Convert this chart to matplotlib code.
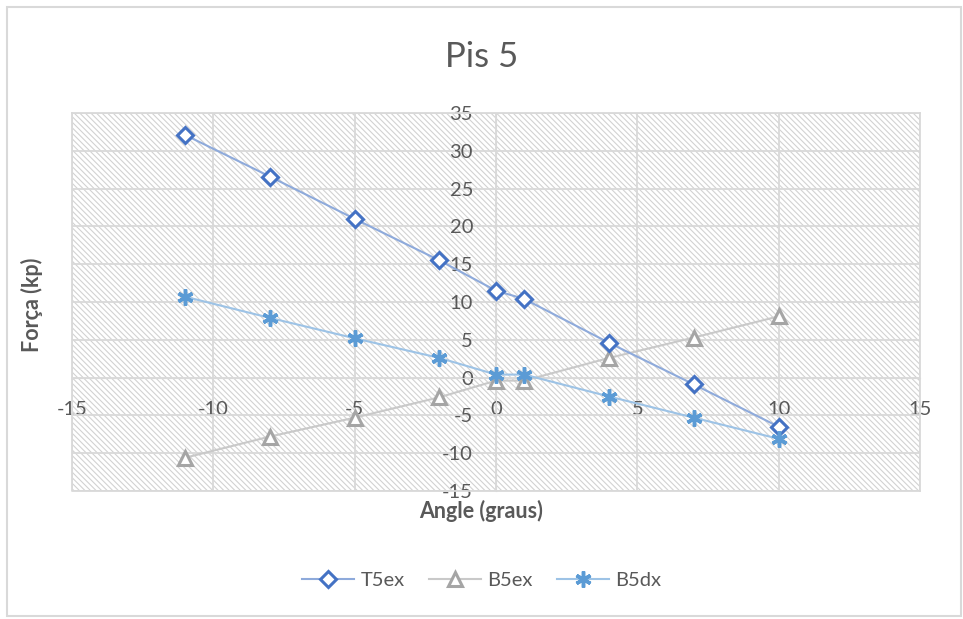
import matplotlib.pyplot as plt
from matplotlib.patches import Rectangle

plt.rcParams['font.family'] = ['Lato', 'DejaVu Sans']
plt.rcParams['axes.unicode_minus'] = False
plt.rcParams['hatch.linewidth'] = 0.8

angle = [-11, -8, -5, -2, 0, 1, 4, 7, 10]
t5ex = [32.1, 26.6, 21.0, 15.5, 11.5, 10.4, 4.6, -0.9, -6.5]
b5ex = [-10.6, -7.8, -5.3, -2.6, -0.4, -0.4, 2.6, 5.3, 8.1]
b5dx = [10.7, 7.9, 5.2, 2.6, 0.4, 0.4, -2.5, -5.3, -8.1]

xticks = [-15, -10, -5, 0, 5, 10, 15]
yticks = [-15, -10, -5, 0, 5, 10, 15, 20, 25, 30, 35]

grid_c = '#d9d9d9'
text_c = '#595959'

fig = plt.figure(figsize=(9.63, 6.19), dpi=100)
ax = fig.add_axes([0.0748, 0.2068, 0.8805, 0.6106])

# hatched plot background
ax.add_patch(Rectangle((0, 0), 1, 1, transform=ax.transAxes, facecolor='white',
                       edgecolor='#d2d2d2', hatch='\\\\\\\\\\\\', linewidth=0, zorder=0))

ax.plot(angle, t5ex, color='#8eaadb', lw=1.5, marker='D', ms=8, mfc='white',
        mec='#4472c4', mew=2.2, label='T5ex', zorder=4)
ax.plot(angle, b5ex, color='#c9c9c9', lw=1.5, marker='^', ms=10, mfc='white',
        mec='#a5a5a5', mew=2.2, label='B5ex', zorder=3)
ax.plot(angle, b5dx, color='#9dc3e6', lw=1.5, marker=(6, 2, 0), ms=11.5,
        mec='#5b9bd5', mew=2.5, label='B5dx', zorder=5)

ax.set_xlim(-15, 15)
ax.set_ylim(-15, 35)
ax.set_xticks(xticks)
ax.set_yticks(yticks)
ax.grid(True, color=grid_c, lw=1.3, zorder=1)
ax.set_axisbelow(True)

for s in ['top', 'right']:
    ax.spines[s].set_color(grid_c)
    ax.spines[s].set_linewidth(1.3)
ax.spines['left'].set_position('zero')
ax.spines['bottom'].set_position('zero')
ax.spines['left'].set_color(grid_c)
ax.spines['bottom'].set_color(grid_c)
ax.tick_params(length=0, labelsize=14.5, labelcolor=text_c)
ax.tick_params(axis='x', pad=17)
ax.tick_params(axis='y', pad=16.5)

# remaining border lines of the plot area
ax.plot([0, 0, 1], [1, 0, 0], transform=ax.transAxes, color=grid_c, lw=1.3,
        clip_on=False, zorder=1)

fig.text(0.5, 0.908, 'Pis 5', ha='center', va='center', fontsize=25, color=text_c)
fig.text(0.5, 0.175, 'Angle (graus)', ha='center', va='center', fontsize=15.5,
         fontweight='bold', color=text_c)
fig.text(0.033, 0.508, 'Força (kp)', ha='center', va='center', rotation=90,
         fontsize=15.5, fontweight='bold', color=text_c)

leg = fig.legend(loc='center', bbox_to_anchor=(0.5, 0.063), ncol=3, frameon=False,
                 fontsize=14.5, handlelength=2.6, columnspacing=1.2, handletextpad=0.3)
for t in leg.get_texts():
    t.set_color(text_c)

fig.add_artist(Rectangle((0.007, 0.005), 0.991, 0.984, transform=fig.transFigure,
                         fill=False, edgecolor='#d9d9d9', lw=1.5))

fig.savefig('out.png', dpi=100)
